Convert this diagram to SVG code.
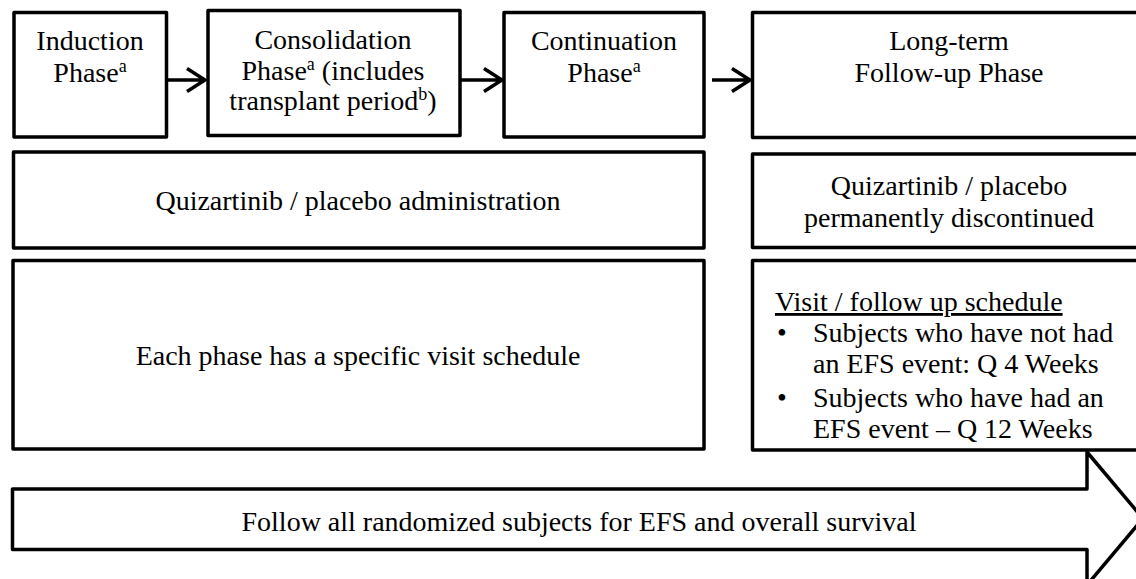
<svg xmlns="http://www.w3.org/2000/svg" width="1136" height="579" viewBox="0 0 1136 579" font-family="'Liberation Serif', 'Times New Roman', Times, 'DejaVu Serif', serif">
  <style>
    .box { fill: #ffffff; stroke: #000000; stroke-width: 3.5; stroke-linejoin: round; }
    .t { font-family: 'Liberation Serif', 'Times New Roman', Times, 'DejaVu Serif', serif; font-size: 28px; fill: #000000; }
    .c { text-anchor: middle; }
    .sup { font-size: 18px; }
    .conn { fill: none; stroke: #000000; stroke-width: 3.5; stroke-linecap: butt; stroke-linejoin: miter; }
  </style>
  <rect width="1136" height="579" fill="#ffffff"/>

  <g id="induction">
    <rect class="box" x="14" y="12.5" width="152.5" height="124.5"/>
    <text class="t c" x="90" y="50">Induction</text>
    <text class="t c" x="90" y="82">Phase<tspan class="sup" dy="-10">a</tspan></text>
  </g>

  <g id="consolidation">
    <rect class="box" x="208" y="10.5" width="252" height="125"/>
    <text class="t c" x="333" y="49">Consolidation</text>
    <text class="t c" x="333" y="80">Phase<tspan class="sup" dy="-10">a</tspan><tspan dy="10"> (includes</tspan></text>
    <text class="t c" x="333" y="110">transplant period<tspan class="sup" dy="-10">b</tspan><tspan dy="10">)</tspan></text>
  </g>

  <g id="continuation">
    <rect class="box" x="504" y="12.5" width="200" height="124.5"/>
    <text class="t c" x="604" y="50">Continuation</text>
    <text class="t c" x="604" y="82">Phase<tspan class="sup" dy="-10">a</tspan></text>
  </g>

  <g id="longterm">
    <rect class="box" x="752.5" y="12.5" width="394" height="125"/>
    <text class="t c" x="949" y="50">Long-term</text>
    <text class="t c" x="949" y="82">Follow-up Phase</text>
  </g>

  <g id="admin">
    <rect class="box" x="13.5" y="152" width="690.5" height="96"/>
    <text class="t c" x="358" y="210">Quizartinib / placebo administration</text>
  </g>

  <g id="discontinued">
    <rect class="box" x="752.5" y="154" width="394" height="93.5"/>
    <text class="t c" x="949" y="195">Quizartinib / placebo</text>
    <text class="t c" x="949" y="227">permanently discontinued</text>
  </g>

  <g id="visits">
    <rect class="box" x="13" y="260.5" width="691" height="188.5"/>
    <text class="t c" x="358" y="365">Each phase has a specific visit schedule</text>
  </g>

  <g id="schedule">
    <rect class="box" x="752.5" y="260.5" width="394" height="189.5"/>
    <text class="t" x="775" y="311" text-decoration="underline">Visit / follow up schedule</text>
    <text class="t" x="777" y="342">•</text>
    <text class="t" x="813" y="342">Subjects who have not had</text>
    <text class="t" x="813" y="373">an EFS event: Q 4 Weeks</text>
    <text class="t" x="777" y="407">•</text>
    <text class="t" x="813" y="407">Subjects who have had an</text>
    <text class="t" x="813" y="438">EFS event – Q 12 Weeks</text>
  </g>

  <g id="followall">
    <path class="box" d="M 12.5 489 L 1087 489 L 1087 452 L 1143 518.5 L 1087 585 L 1087 549.5 L 12.5 549.5 Z"/>
    <text class="t c" x="579" y="531">Follow all randomized subjects for EFS and overall survival</text>
  </g>

  <g id="connectors">
    <path class="conn" d="M 166.5 80 L 205 80 M 187 68.5 L 205 80 L 187 91.5"/>
    <path class="conn" d="M 460 80 L 502 80 M 484 68.5 L 502 80 L 484 91.5"/>
    <path class="conn" d="M 712 80 L 750 80 M 732 68.5 L 750 80 L 732 91.5"/>
  </g>
</svg>
